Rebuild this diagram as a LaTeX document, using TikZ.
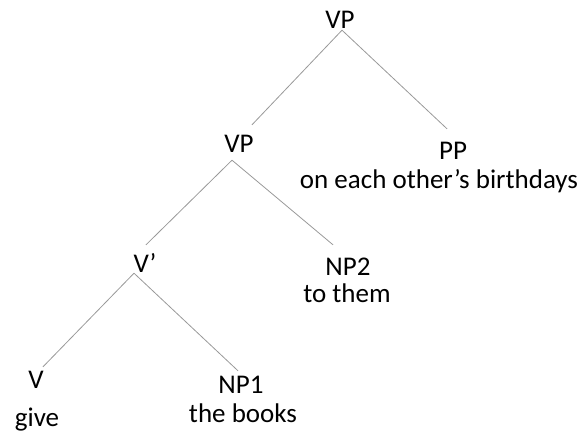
\documentclass[tikz,border=0pt]{standalone}
\usepackage{fontspec}
\setmainfont{Carlito}
\begin{document}
\begin{tikzpicture}[x=1pt,y=-1pt,font=\fontsize{27}{32}\selectfont,
	lab/.style={inner sep=0pt,anchor=base,text height=18pt,text depth=5pt},
	branch/.style={draw=black!40,line width=0.8pt}]
	\useasboundingbox (0,0) rectangle (583,433);
	% categories
	\node[lab] (vp) at (340,29) {VP};
	\node[lab] (vpa) at (239,152) {VP};
	\node[lab] (pp) at (453,159) {PP};
	\node[lab] (vbar) at (145,272) {V’};
	\node[lab] (npb) at (348,275) {NP2};
	\node[lab] (v) at (36,388) {V};
	\node[lab] (npa) at (241,393) {NP1};
	% words
	\node[lab] (ppw) at (439,188) {on each other’s birthdays};
	\node[lab] (npbw) at (347,302) {to them};
	\node[lab] (vw) at (37,426) {give};
	\node[lab] (npaw) at (243,422) {the books};
	% branches
	\draw[branch] ([shift={(2,-4)}]vp.south) -- ([shift={(13,-9)}]vpa.north);
	\draw[branch] ([shift={(2,-4)}]vp.south) -- ([shift={(-6,-12)}]pp.north);
	\draw[branch] ([shift={(-7,3)}]vpa.south) -- ([shift={(1,-9)}]vbar.north);
	\draw[branch] ([shift={(-7,3)}]vpa.south) -- ([shift={(-15,-12)}]npb.north);
	\draw[branch] ([shift={(-11,-4)}]vbar.south) -- ([shift={(7,-3)}]v.north);
	\draw[branch] ([shift={(-11,-4)}]vbar.south) -- ([shift={(-3,-4)}]npa.north);
\end{tikzpicture}
\end{document}
